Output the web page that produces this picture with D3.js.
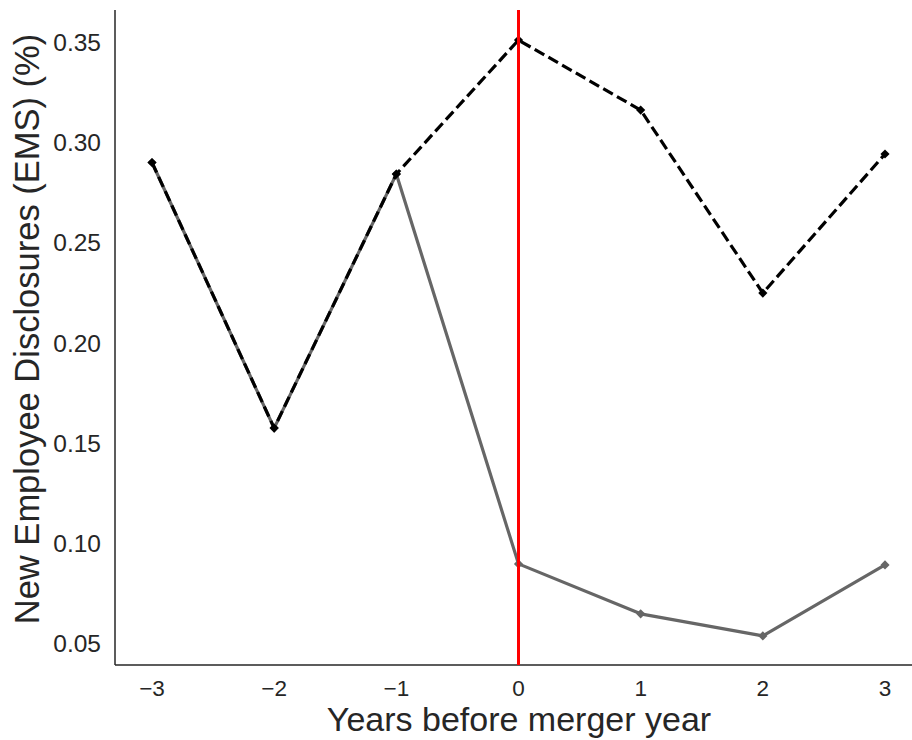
<!DOCTYPE html>
<html><head><meta charset="utf-8">
<script src="https://cdn.jsdelivr.net/npm/d3@7"></script>
<style>body{margin:0;background:#fff;} text{font-family:"Liberation Sans",Arial,sans-serif;fill:#262626;}</style>
</head><body>
<svg id="c" width="912" height="740"></svg>
<script>
const years = [-3, -2, -1, 0, 1, 2, 3];
const dashedSeries = [0.290, 0.1576, 0.2842, 0.351, 0.3161, 0.2249, 0.2942];
const solidSeries = [0.290, 0.1576, 0.2842, 0.0899, 0.0650, 0.0540, 0.0894];
const xTicks = [-3, -2, -1, 0, 1, 2, 3];
const yTicks = [0.05, 0.10, 0.15, 0.20, 0.25, 0.30, 0.35];
const mergerYear = 0;

const svg = d3.select("#c");
const x = d3.scaleLinear().domain([-3.3, 3.3]).range([115.35, 921.65]);
const y = d3.scaleLinear().domain([0.0395, 0.366]).range([665, 10]);

const axisColor = "#262626";
svg.append("line").attr("x1", 115).attr("x2", 912).attr("y1", 665).attr("y2", 665)
  .attr("stroke", axisColor).attr("stroke-width", 1.5);
svg.append("line").attr("x1", 115).attr("x2", 115).attr("y1", 10).attr("y2", 665)
  .attr("stroke", axisColor).attr("stroke-width", 1.5);

const xAxis = svg.append("g");
xTicks.forEach(t => {
  xAxis.append("text").attr("x", x(t)).attr("y", 695.5).attr("text-anchor", "middle")
    .attr("font-size", 22.5).text(String(t).replace("-", "\u2212"));
});
const yAxis = svg.append("g");
yTicks.forEach(t => {
  yAxis.append("text").attr("x", 101).attr("y", y(t) + 8.5).attr("text-anchor", "end")
    .attr("font-size", 24.5).text(d3.format(".2f")(t));
});

svg.append("text").attr("x", 519).attr("y", 731).attr("text-anchor", "middle")
  .attr("font-size", 34).text("Years before merger year");
svg.append("text").attr("transform", "translate(39,329) rotate(-90)").attr("text-anchor", "middle")
  .attr("font-size", 34.5).text("New Employee Disclosures (EMS) (%)");

const line = d3.line().x((d, i) => x(years[i])).y(d => y(d));
const diamond = d3.symbol().type(d3.symbolSquare).size(42);

svg.append("path").datum(solidSeries).attr("d", line).attr("fill", "none")
  .attr("stroke", "#666666").attr("stroke-width", 3.2).attr("stroke-linejoin", "round");
svg.append("g").selectAll("path").data(solidSeries).join("path")
  .attr("d", diamond).attr("transform", (d, i) => `translate(${x(years[i])},${y(d)}) rotate(45)`)
  .attr("fill", "#666666");

svg.append("path").datum(dashedSeries).attr("d", line).attr("fill", "none")
  .attr("stroke", "#000").attr("stroke-width", 3.2).attr("stroke-dasharray", "11,4.8");
svg.append("g").selectAll("path").data(dashedSeries).join("path")
  .attr("d", diamond).attr("transform", (d, i) => `translate(${x(years[i])},${y(d)}) rotate(45)`)
  .attr("fill", "#000");

svg.append("line").attr("x1", x(mergerYear)).attr("x2", x(mergerYear)).attr("y1", 10).attr("y2", 665)
  .attr("stroke", "#ff0000").attr("stroke-width", 3);
</script>
</body></html>
